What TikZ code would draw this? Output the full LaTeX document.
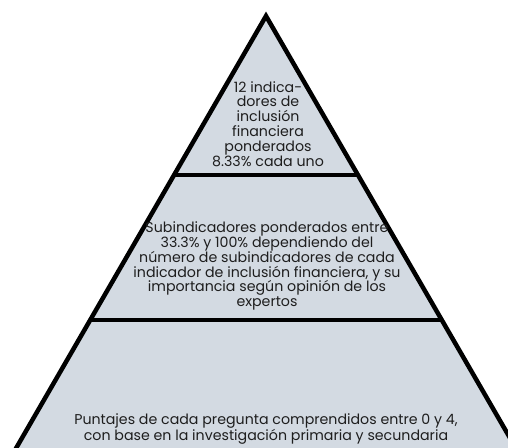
\documentclass[tikz,border=0pt]{standalone}
\usepackage{fontspec}
\setmainfont{Poppins}
\definecolor{pyrfill}{HTML}{D3DAE2}
\definecolor{txt}{HTML}{1E1E1E}
\begin{document}
\begin{tikzpicture}[x=1pt,y=-1pt,
  edge/.style={line width=4.5pt, line join=miter, draw=black},
  sep/.style={line width=4pt, draw=black},
  lbl/.style={align=center, text=txt, font=\fontsize{14.2pt}{14.9pt}\selectfont, inner sep=0pt}]
\useasboundingbox (0,0) rectangle (508,447);
\clip (0,0) rectangle (508,447);
\coordinate (apex) at (266,16);
\coordinate (bl) at (11,457);
\coordinate (br) at (521,457);
\filldraw[edge, fill=pyrfill] (bl) -- (apex) -- (br) -- cycle;
\coordinate (l1) at (174.1,175);
\coordinate (r1) at (357.9,175);
\coordinate (l2) at (90.3,320);
\coordinate (r2) at (441.7,320);
\draw[sep] (l1) -- (r1);
\draw[sep] (l2) -- (r2);
\node[lbl] (top) at (268,124) {12 indica-\\dores de\\inclusión\\financiera\\ponderados\\8.33\% cada uno};
\node[lbl] (mid) at (267,266) {Subindicadores ponderados entre\\33.3\% y 100\% dependiendo del\\número de subindicadores de cada\\indicador de inclusión financiera, y su\\importancia según opinión de los\\expertos};
\node[lbl] (bot) at (266,429) {Puntajes de cada pregunta comprendidos entre 0 y 4,\\con base en la investigación primaria y secundaria};
\end{tikzpicture}
\end{document}
